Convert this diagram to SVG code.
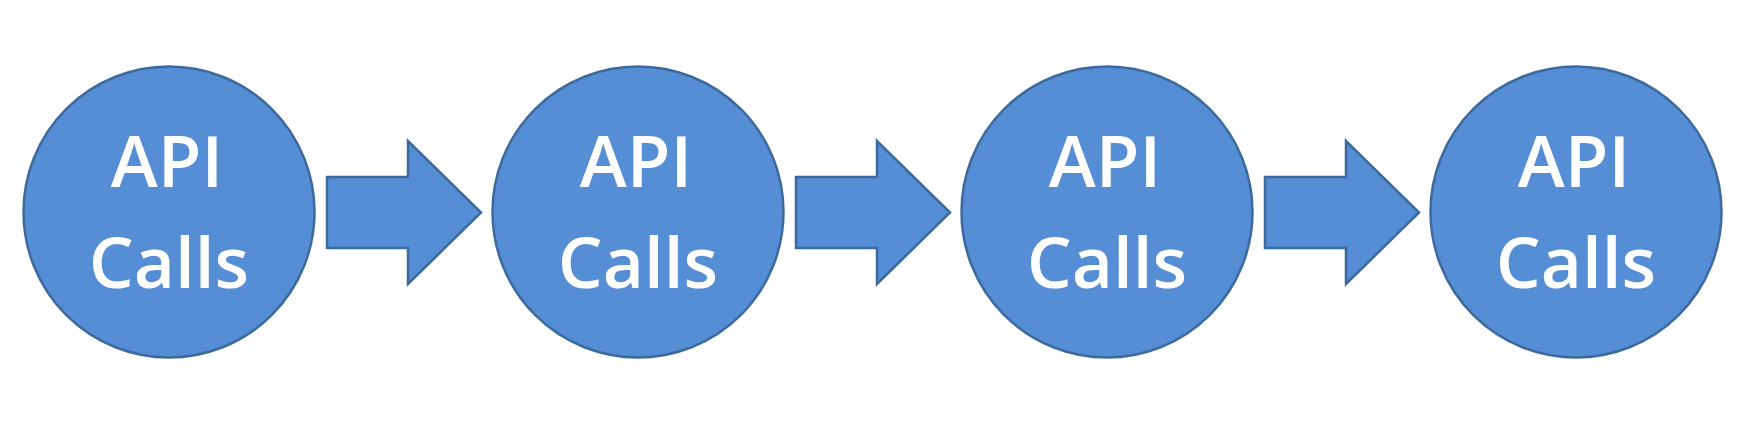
<svg xmlns="http://www.w3.org/2000/svg" width="1748" height="440" viewBox="0 0 1748 440">
<style>
.node circle{fill:#558ed5;stroke:#3d6a9e;stroke-width:2.5}
.node text{fill:#fff;font-family:"Open Sans","Noto Sans","Liberation Sans",sans-serif;font-size:71px;font-weight:600;text-anchor:middle}
.conn polygon{fill:#558ed5;stroke:#3d6a9e;stroke-width:2.5;stroke-linejoin:miter}
</style>
<rect width="1748" height="440" fill="#fff"/>
<g id="connectors" class="conn">
<polygon id="a1" points="327,177 408,177 408,141 481,212.5 408,284 408,248 327,248"/>
<polygon id="a2" points="796,177 877,177 877,141 950,212.5 877,284 877,248 796,248"/>
<polygon id="a3" points="1265,177 1346,177 1346,141 1419,212.5 1346,284 1346,248 1265,248"/>
</g>
<g id="n1" class="node"><circle cx="169" cy="212" r="145.5"/><text x="167" y="187">API</text><text x="169" y="288">Calls</text></g>
<g id="n2" class="node"><circle cx="638" cy="212" r="145.5"/><text x="636" y="187">API</text><text x="638" y="288">Calls</text></g>
<g id="n3" class="node"><circle cx="1107" cy="212" r="145.5"/><text x="1105" y="187">API</text><text x="1107" y="288">Calls</text></g>
<g id="n4" class="node"><circle cx="1576" cy="212" r="145.5"/><text x="1574" y="187">API</text><text x="1576" y="288">Calls</text></g>
</svg>
